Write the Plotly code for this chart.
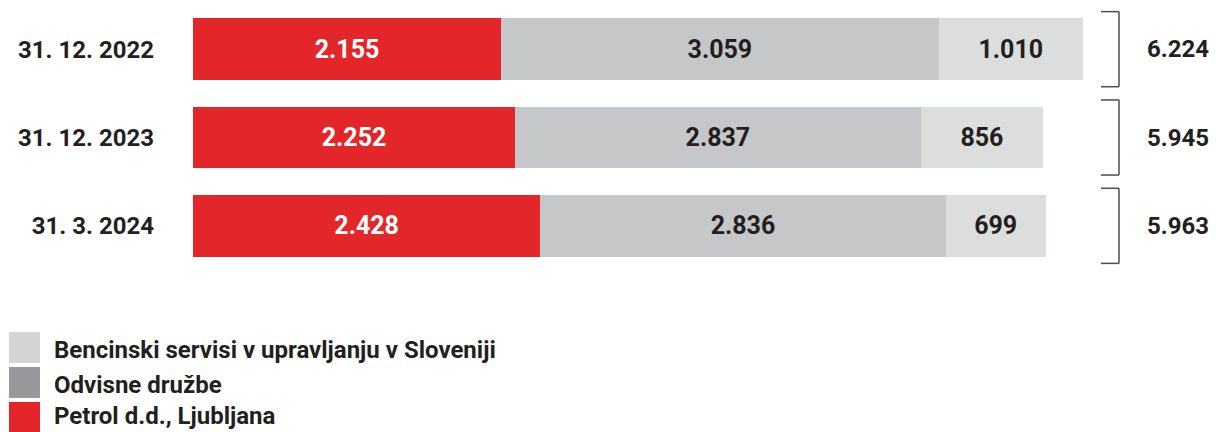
import plotly.graph_objects as go

categories = ["31. 12. 2022", "31. 12. 2023", "31. 3. 2024"]
series_names = ["Petrol d.d., Ljubljana", "Odvisne družbe", "Bencinski servisi v upravljanju v Sloveniji"]
petrol = [2155, 2252, 2428]
odvisne = [3059, 2837, 2836]
bencinski = [1010, 856, 699]

bar_colors = ["#e3262a", "#c6c7c8", "#dcdddd"]
legend_colors = ["#e3262a", "#98989b", "#d4d4d5"]
text_colors = ["#ffffff", "#231f20", "#231f20"]

FONT = "Roboto, Liberation Sans, sans-serif"
W, H = 1216, 432
ML, MR, MT, MB = 193, 0, 5, 162
plot_w = W - ML - MR
plot_h = H - MT - MB

def px_x(p):
    return (p - ML) / plot_w

def px_y(p):
    return (H - MB - p) / plot_h

fig = go.Figure()
for name, vals, col, tcol in zip(series_names, [petrol, odvisne, bencinski], bar_colors, text_colors):
    fig.add_trace(go.Bar(
        y=categories, x=vals, orientation="h", name=name,
        marker=dict(color=col, line=dict(width=0)),
        texttemplate="%{x:,}", textposition="inside", insidetextanchor="middle",
        textfont=dict(family=FONT, size=25, color=tcol, weight="bold"),
        showlegend=False, hoverinfo="skip",
    ))

totals = [a + b + c for a, b, c in zip(petrol, odvisne, bencinski)]

shapes = []
annotations = []
for i, (cat, tot) in enumerate(zip(categories, totals)):
    y0, y1 = i - 0.425, i + 0.425
    xa, xb = px_x(1101), px_x(1119)
    line = dict(color="#4d4d4f", width=1.5)
    shapes.append(dict(type="line", xref="paper", yref="y", x0=xa, x1=xb, y0=y0, y1=y0, line=line))
    shapes.append(dict(type="line", xref="paper", yref="y", x0=xb, x1=xb, y0=y0, y1=y1, line=line))
    shapes.append(dict(type="line", xref="paper", yref="y", x0=xa, x1=xb, y0=y1, y1=y1, line=line))
    annotations.append(dict(
        xref="paper", yref="y", x=px_x(1178), y=i, xanchor="center", yanchor="middle",
        text=f"{tot:,}".replace(",", "."), showarrow=False,
        font=dict(family=FONT, size=24, color="#231f20", weight="bold"),
    ))

# legend (drawn manually, top to bottom: Bencinski, Odvisne, Petrol)
legend_order = [2, 1, 0]
tops = [332, 367, 402]
text_centers = [350, 385, 416]
for k, idx in enumerate(legend_order):
    t = tops[k]
    shapes.append(dict(type="rect", xref="paper", yref="paper",
                       x0=px_x(9), x1=px_x(40), y0=px_y(t + 31), y1=px_y(t),
                       fillcolor=legend_colors[idx], line=dict(width=0)))
    annotations.append(dict(
        xref="paper", yref="paper", x=px_x(52), y=px_y(text_centers[k]), xanchor="left", yanchor="middle",
        text=series_names[idx], showarrow=False,
        font=dict(family=FONT, size=24, color="#231f20", weight="bold"),
    ))

fig.update_layout(
    barmode="stack", bargap=0.30,
    width=W, height=H,
    margin=dict(l=ML, r=MR, t=MT, b=MB, pad=0, autoexpand=False),
    paper_bgcolor="white", plot_bgcolor="white",
    separators=",.",
    xaxis=dict(range=[0, 6224 * plot_w / 890], visible=False, showgrid=False, zeroline=False,
               fixedrange=True, automargin=False),
    yaxis=dict(categoryorder="array", categoryarray=categories, range=[2.5, -0.5],
               showgrid=False, zeroline=False, showline=False, ticks="",
               ticklabelstandoff=38, automargin=False,
               tickfont=dict(family=FONT, size=24, color="#231f20", weight="bold")),
    shapes=shapes, annotations=annotations,
    uniformtext=dict(mode=False),
)

fig.write_html("out.html", config={"displayModeBar": False},
               post_script="document.body.style.margin='0';document.body.style.overflow='hidden';")
